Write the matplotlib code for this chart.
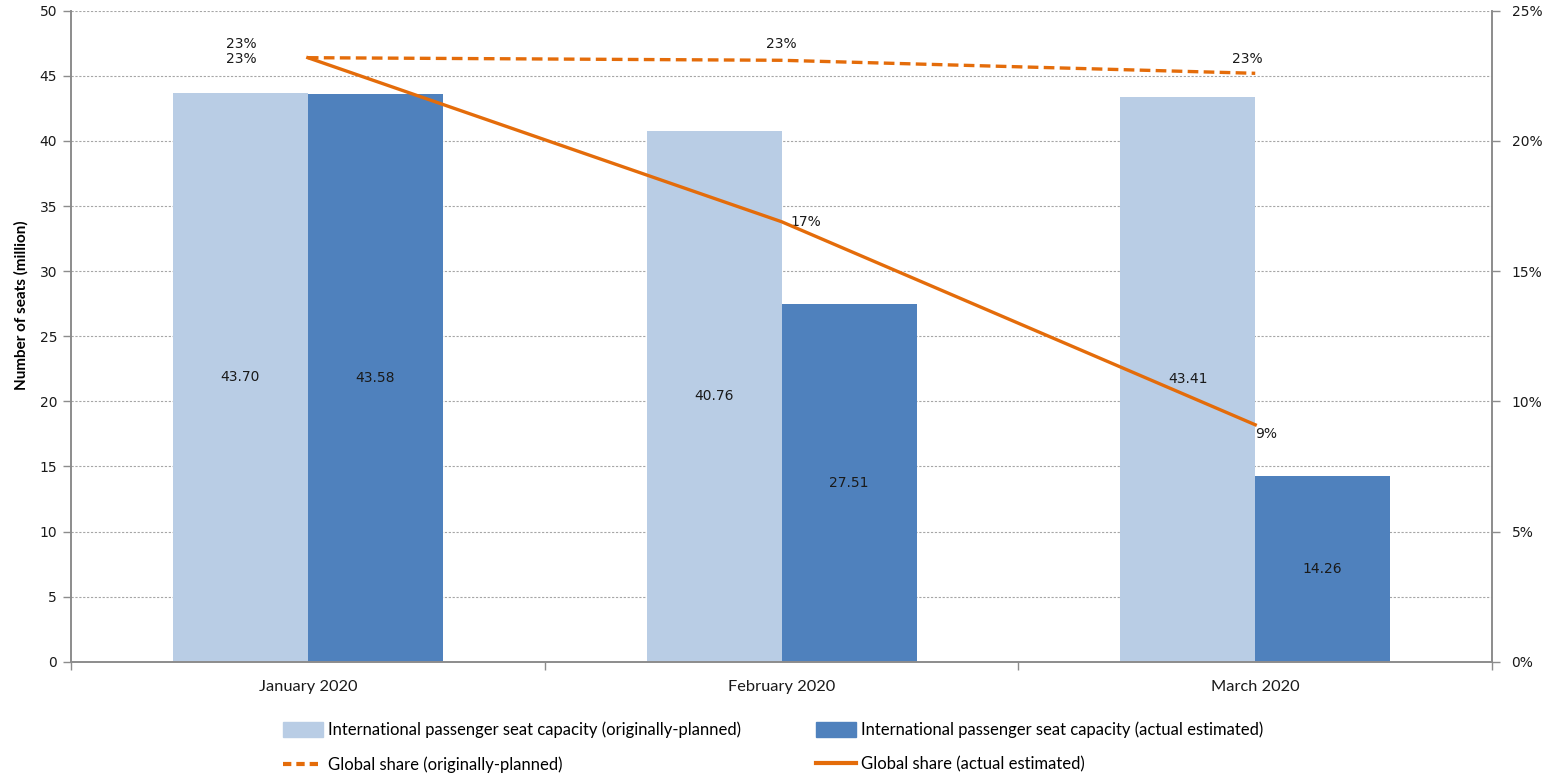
import matplotlib
matplotlib.use("Agg")
import matplotlib.pyplot as plt
import numpy as np
from matplotlib.lines import Line2D
from matplotlib.patches import Patch

months = ["January 2020", "February 2020", "March 2020"]
seats_planned = [43.70, 40.76, 43.41]
seats_actual = [43.58, 27.51, 14.26]
share_planned = [23.2, 23.1, 22.6]
share_actual = [23.2, 16.9, 9.1]

LIGHT = "#b9cde5"
DARK = "#4f81bd"
ORANGE = "#e46c0a"
GREY = "#8c8c8c"
NARROW = "Lato"

fig = plt.figure(figsize=(15.43, 7.73), dpi=100)
ax = fig.add_axes([0.046, 0.144, 0.921, 0.842])
ax2 = ax.twinx()

x = np.arange(len(months))
w = 0.285
ax.bar(x - w / 2, seats_planned, w, color=LIGHT, zorder=2)
ax.bar(x + w / 2, seats_actual, w, color=DARK, zorder=2)
for xi, v in zip(x, seats_planned):
    ax.text(xi - w / 2, v / 2, f"{v:.2f}", ha="center", va="center",
            fontsize=10, color="#1a1a1a", zorder=3)
for xi, v in zip(x, seats_actual):
    ax.text(xi + w / 2, v / 2, f"{v:.2f}", ha="center", va="center",
            fontsize=10, color="#1a1a1a", zorder=3)

ax.set_xlim(-0.5, len(months) - 0.5)
ax.set_ylim(0, 50)
ax.set_yticks(range(0, 51, 5))
ax.yaxis.grid(True, linestyle=(0, (2, 1.5)), color="#a6a6a6", linewidth=0.8)
ax.set_axisbelow(True)
ax.set_xticks(x)
ax.set_xticklabels(months, fontfamily=NARROW, fontsize=11.8)
ax.set_xticks(np.arange(-0.5, len(months)), minor=True)
ax.tick_params(axis="x", which="major", length=0, pad=13)
ax.tick_params(axis="x", which="minor", length=6, color=GREY, width=1)
ax.tick_params(axis="y", length=6, color=GREY, width=1, labelsize=10, pad=4)
ax.set_ylabel("Number of seats (million)", fontfamily=NARROW, fontweight="bold",
              fontsize=11)
ax.yaxis.set_label_coords(-0.030, 0.547)

ax2.plot(x, share_planned, color=ORANGE, linewidth=2.4, linestyle=(0, (3.2, 1.6)),
         zorder=4)
ax2.plot(x, share_actual, color=ORANGE, linewidth=2.4, zorder=4)
ax2.set_ylim(0, 25)
ax2.set_yticks(range(0, 26, 5))
ax2.set_yticklabels([f"{t}%" for t in range(0, 26, 5)])
ax2.tick_params(axis="y", length=6, color=GREY, width=1, labelsize=10, pad=8)

# data labels for the share lines (pixel offsets from the points)
offsets_planned = [(-67, 14), (0, 16), (-8, 14)]
offsets_actual = [(-67, -1), (24, 0), (11, -9)]
for xi, v, off in zip(x, share_planned, offsets_planned):
    ax2.annotate(f"{v:.0f}%", (xi, v), xytext=off, textcoords="offset pixels",
                 ha="center", va="center", fontsize=10, color="#1a1a1a")
for xi, v, off in zip(x, share_actual, offsets_actual):
    ax2.annotate(f"{v:.0f}%", (xi, v), xytext=off, textcoords="offset pixels",
                 ha="center", va="center", fontsize=10, color="#1a1a1a")

for a in (ax, ax2):
    a.spines["top"].set_visible(False)
    for s in ("left", "right", "bottom"):
        a.spines[s].set_color(GREY)
        a.spines[s].set_linewidth(1.2)
    a.tick_params(colors="#1a1a1a", which="both")
ax.tick_params(axis="both", which="both", color=GREY)
ax2.tick_params(axis="y", color=GREY)

handles = [
    Patch(color=LIGHT, label="International passenger seat capacity (originally-planned)"),
    Line2D([], [], color=ORANGE, linewidth=3, linestyle=(0, (2, 1.2)),
           label="Global share (originally-planned)"),
    Patch(color=DARK, label="International passenger seat capacity (actual estimated)"),
    Line2D([], [], color=ORANGE, linewidth=3, label="Global share (actual estimated)"),
]
fig.legend(handles=handles, ncol=2, loc="upper left", bbox_to_anchor=(0.178, 0.077),
           frameon=False, prop={"family": NARROW, "size": 12},
           handlelength=2.4, handleheight=1.0, handletextpad=0.3,
           columnspacing=4.5, labelspacing=1.09, borderpad=0)

fig.savefig("out.png", dpi=100)
